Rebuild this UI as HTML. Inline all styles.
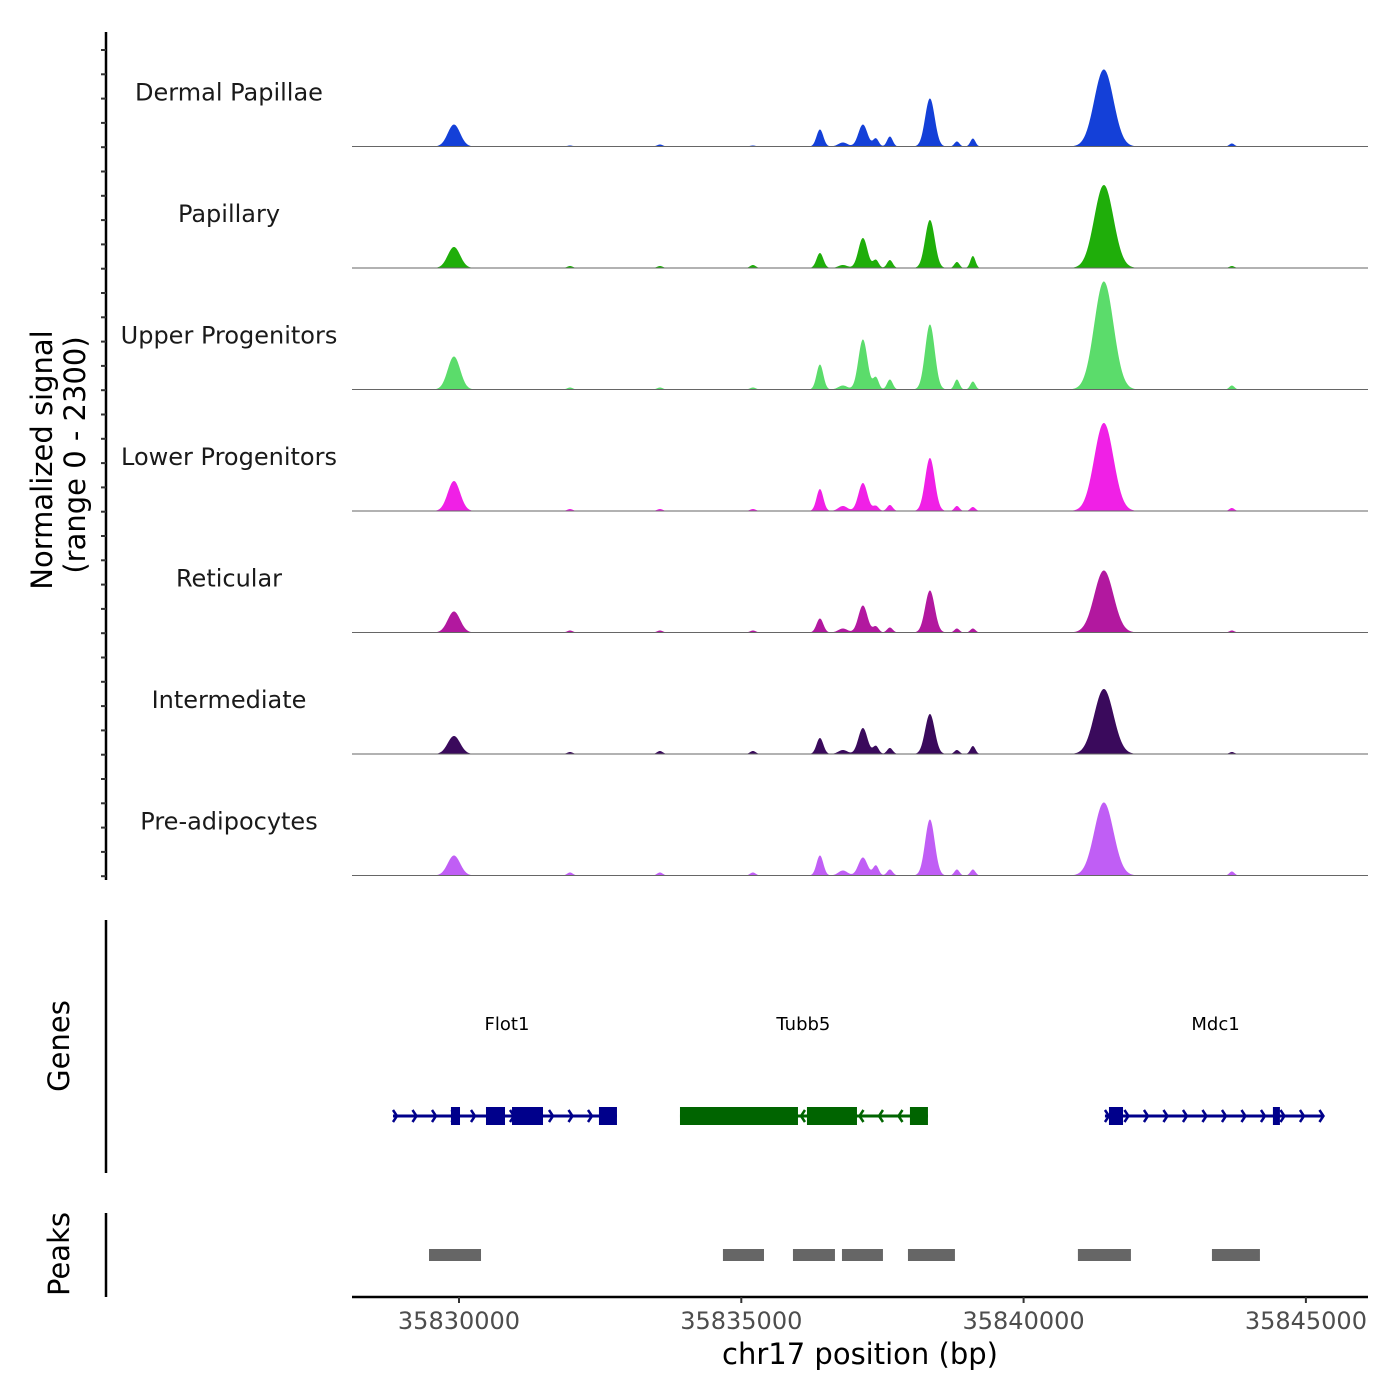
<!DOCTYPE html>
<html><head><meta charset="utf-8">
<style>
html,body{margin:0;padding:0;background:#fff;}
svg{display:block;font-family:"DejaVu Sans","Liberation Sans",sans-serif;}
</style></head>
<body>
<svg id="chart" width="1400" height="1400" viewBox="0 0 1400 1400" xmlns="http://www.w3.org/2000/svg">
  <g id="tracks"></g>
  <g id="genes"></g>
  <g id="peaks"></g>
  <g id="axes">
    <line x1="106" y1="32" x2="106" y2="880" stroke="#000" stroke-width="2.5"/>
    <line x1="106" y1="920" x2="106" y2="1173" stroke="#000" stroke-width="2.5"/>
    <line x1="106" y1="1213" x2="106" y2="1297" stroke="#000" stroke-width="2.5"/>
    <line x1="352" y1="1297" x2="1368" y2="1297" stroke="#000" stroke-width="2.5"/>
    <text transform="translate(52,460) rotate(-90)" text-anchor="middle" font-size="29" fill="#000">Normalized signal</text>
    <text transform="translate(85,455) rotate(-90)" text-anchor="middle" font-size="29" fill="#000">(range 0 - 2300)</text>
    <text transform="translate(69,1046) rotate(-90)" text-anchor="middle" font-size="29" fill="#000">Genes</text>
    <text transform="translate(69,1254) rotate(-90)" text-anchor="middle" font-size="29" fill="#000">Peaks</text>
    <text x="860" y="1364" text-anchor="middle" font-size="29" fill="#000">chr17 position (bp)</text>
  </g>
</svg>
<script>
const trackNames = ["Dermal Papillae","Papillary","Upper Progenitors","Lower Progenitors","Reticular","Intermediate","Pre-adipocytes"];
const trackColors = ["#1440d8","#1fae0a","#5bdc6b","#f020e6","#b2189f","#3a0a5c","#c05ef5"];
const peakCenters = [35829911,35836393,35836800,35837154,35837384,35837632,35838341,35838819,35839102,35841422,35843689,35835206,35833559,35831966];
const peakWidths  = [110,60,80,80,50,50,85,45,45,170,45,50,50,50];
const sigDP  = [416,322,76,416,151,189,909,95,151,1458,57,19,38,19];
const sigPap = [398,284,57,568,151,151,909,114,227,1571,38,57,38,38];
const sigUP  = [625,473,76,947,227,189,1231,189,151,2045,76,38,38,38];
const sigLP  = [568,416,95,530,95,114,1004,95,76,1666,57,38,38,38];
const sigRet = [398,265,76,511,114,95,795,76,76,1174,38,38,38,38];
const sigInt = [341,303,76,492,151,114,757,76,151,1231,38,57,57,38];
const sigPre = [379,379,95,341,189,114,1060,114,114,1382,76,57,57,57];
const trackSignals = [sigDP,sigPap,sigUP,sigLP,sigRet,sigInt,sigPre];
const yMax = 2300;
const xTicks = [35830000,35835000,35840000,35845000];
const geneNames = ["Flot1","Tubb5","Mdc1"];
const geneStarts = [35828831,35833914,35841441];
const geneEnds = [35832798,35838306,35845319];
const geneStrands = [1,-1,1];
const geneColors = ["#00008b","#006400","#00008b"];
const geneLabelPos = [35830850,35836100,35843400];
const exonGene = [0,0,0,0,1,1,1,2,2];
const exonStarts = [35829858,35830478,35830939,35832479,35833914,35836163,35837987,35841512,35844416];
const exonEnds = [35830018,35830815,35831488,35832798,35836004,35837049,35838306,35841761,35844540];
const peakStarts = [35829469,35834675,35835915,35836783,35837952,35840962,35843336];
const peakEnds = [35830390,35835402,35836659,35837509,35838784,35841901,35844186];

const NS="http://www.w3.org/2000/svg";
const X0=352,X1=1368, BP0=35828105, BP1=35846100;
function xs(bp){return X0+(bp-BP0)/(BP1-BP0)*(X1-X0);}
function mk(tag,attrs,parent){const e=document.createElementNS(NS,tag);for(const k in attrs)e.setAttribute(k,attrs[k]);parent.appendChild(e);return e;}
const tracksG=document.getElementById('tracks');
const TOP=25, TH=121.5;
const axes=document.getElementById('axes');
for(let i=0;i<35;i++){
  const y=50+i*TH/5;
  const t=mk('line',{x1:101,x2:106,y1:y,y2:y,stroke:'#333','stroke-width':2},axes);
  
  
}
trackNames.forEach((name,ti)=>{
  const base=TOP+TH*(ti+1);
  const h=TH;
  const vals=trackSignals[ti];
  let d=`M${X0},${base}`;
  for(let px=X0;px<=X1;px+=0.5){
    const bp=BP0+(px-X0)/(X1-X0)*(BP1-BP0);
    let v=0;
    for(let k=0;k<peakCenters.length;k++){
      const z=(bp-peakCenters[k])/peakWidths[k];
      v+=vals[k]*Math.exp(-0.5*z*z);
    }
    d+=`L${px.toFixed(1)},${(base-v/yMax*h).toFixed(2)}`;
  }
  d+=`L${X1},${base}Z`;
  const p=mk('path',{d:d,fill:trackColors[ti]},tracksG);
  
  
  const bl=mk('line',{x1:X0,x2:X1,y1:base,y2:base,stroke:'#666','stroke-width':1},tracksG);
  
  
  const lab=mk('text',{x:229,y:base-46,'text-anchor':'middle','font-size':24,fill:'#1a1a1a'},tracksG);
  lab.textContent=name;
  
  
});
const genesG=document.getElementById('genes');
const GY=1116;
geneNames.forEach((g,gi)=>{
  const c=geneColors[gi];
  const a=xs(geneStarts[gi]), b=xs(geneEnds[gi]);
  const ln=mk('line',{x1:a,x2:b,y1:GY,y2:GY,stroke:c,'stroke-width':3},genesG);
  
  
  for(let x=a+4;x<=b;x+=19.5){
    const s=geneStrands[gi];
    const ar=mk('polyline',{points:`${x-4*s},${GY-6} ${x},${GY} ${x-4*s},${GY+6}`,fill:'none',stroke:c,'stroke-width':2.5},genesG);
    
    
  }
  const t=mk('text',{x:xs(geneLabelPos[gi]),y:1030,'text-anchor':'middle','font-size':18,fill:'#000'},genesG);
  t.textContent=g;
  
  
});
exonStarts.forEach((s,i)=>{
  const a=xs(s), b=xs(exonEnds[i]);
  const r=mk('rect',{x:a,y:GY-9,width:Math.max(b-a,3),height:18,fill:geneColors[exonGene[i]]},genesG);
  
  
});
const peaksG=document.getElementById('peaks');
peakStarts.forEach((s,i)=>{
  const r=mk('rect',{x:xs(s),y:1249,width:xs(peakEnds[i])-xs(s),height:12,fill:'#666'},peaksG);
  
  
});
xTicks.forEach(v=>{
  const x=xs(v);
  const t=mk('line',{x1:x,x2:x,y1:1297,y2:1303,stroke:'#333','stroke-width':2},axes);
  
  
  const l=mk('text',{x:x,y:1329,'text-anchor':'middle','font-size':24,fill:'#4d4d4d'},axes);
  l.textContent=String(v);
  
  
});
</script>
</body></html>
